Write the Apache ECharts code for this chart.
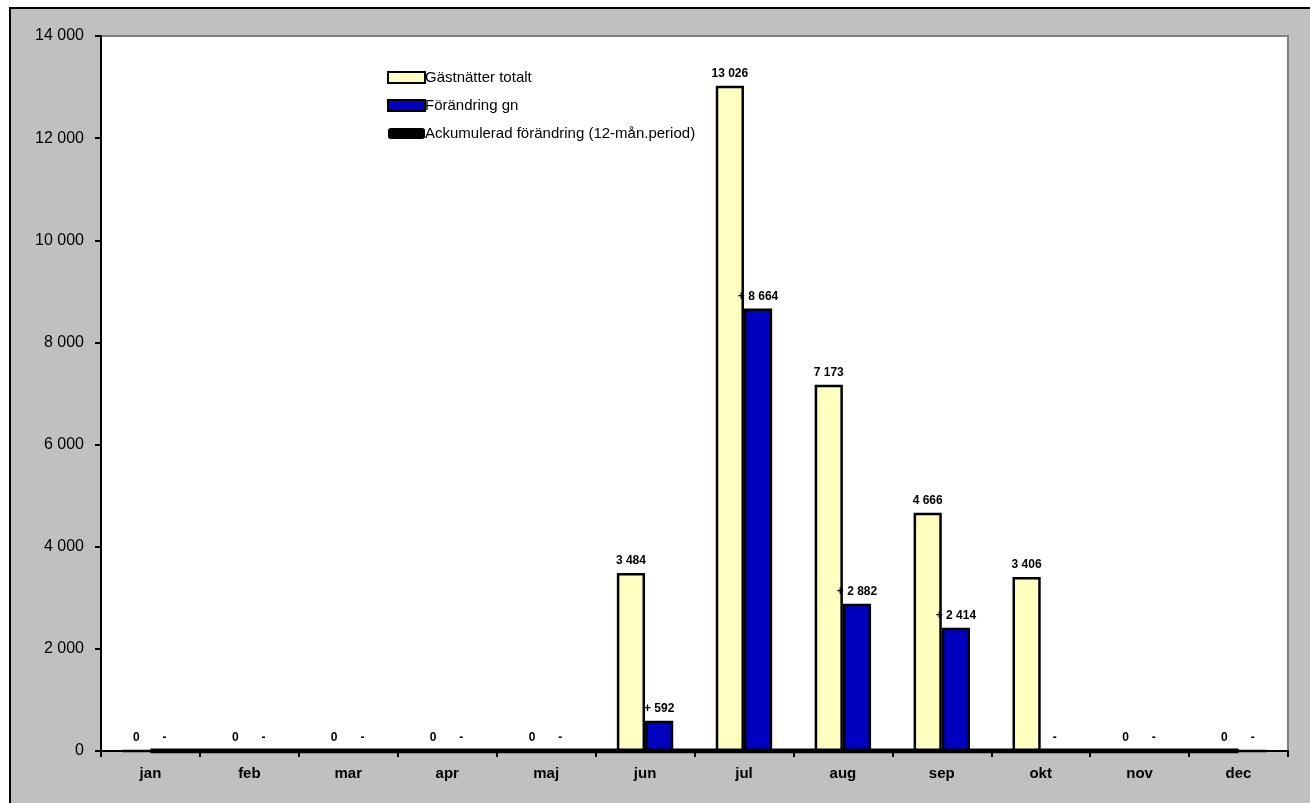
<!DOCTYPE html>
<html>
<head>
<meta charset="utf-8">
<script src="https://cdn.jsdelivr.net/npm/echarts@6/dist/echarts.min.js"></script>
<style>
  html, body { margin: 0; padding: 0; background: #ffffff; }
  #frame {
    position: absolute; left: 9px; top: 7px; width: 1301px; height: 796px;
    background: #c0c0c0; border-left: 2px solid #000; border-top: 2px solid #000;
    box-sizing: border-box;
  }
  #chart { position: absolute; left: 0; top: 0; width: 1310px; height: 803px; }
</style>
</head>
<body>
<div id="frame"></div>
<div id="chart"></div>
<script>
// månader
const months = ['jan', 'feb', 'mar', 'apr', 'maj', 'jun', 'jul', 'aug', 'sep', 'okt', 'nov', 'dec']
// gästnätter totalt
const gastnatter = [0, 0, 0, 0, 0, 3484, 13026, 7173, 4666, 3406, 0, 0]
// förändring gn
const forandring = [0, 0, 0, 0, 0, 592, 8664, 2882, 2414, 0, 0, 0]
// ackumulerad förändring
const ackumulerad = [0, 0, 0, 0, 0, 0, 0, 0, 0, 0, 0, 0]
const yTicks = [0, 2000, 4000, 6000, 8000, 10000, 12000, 14000]

const fmt = v => String(Math.round(v)).replace(/\B(?=(\d{3})+(?!\d))/g, ' ')

const chart = echarts.init(document.getElementById('chart'))

const labelStyle = {
  show: true,
  position: 'top',
  distance: 6,
  fontFamily: 'Liberation Sans, Arial, sans-serif',
  fontSize: 12,
  fontWeight: 'bold',
  color: '#000'
}

const option = {
  animation: false,
  textStyle: { fontFamily: 'Liberation Sans, Arial, sans-serif' },
  grid: {
    left: 101, top: 36, right: 22, bottom: 52,
    show: true,
    backgroundColor: '#ffffff',
    borderColor: '#808080',
    borderWidth: 2
  },
  legend: {
    orient: 'vertical',
    left: 382,
    top: 65,
    itemGap: 13,
    itemWidth: 37,
    itemHeight: 11,
    textStyle: { fontSize: 15, color: '#000', padding: [0, 0, 0, -5] },
    data: [
      { name: 'Gästnätter totalt', icon: 'rect' },
      { name: 'Förändring gn', icon: 'rect' },
      { name: 'Ackumulerad förändring (12-mån.period)', icon: 'roundRect',
        itemStyle: { color: '#000', borderWidth: 0 } }
    ]
  },
  xAxis: {
    type: 'category',
    data: months,
    axisLine: { lineStyle: { color: '#000', width: 2 } },
    axisTick: { show: true, length: 6, lineStyle: { color: '#000', width: 2 } },
    axisLabel: { color: '#000', fontSize: 15, fontWeight: 'bold', margin: 15 },
    splitLine: { show: false }
  },
  yAxis: {
    type: 'value',
    min: 0,
    max: yTicks[yTicks.length - 1],
    interval: 2000,
    axisLine: { show: true, lineStyle: { color: '#000', width: 2 } },
    axisTick: { show: true, length: 6, lineStyle: { color: '#000', width: 2 } },
    axisLabel: { color: '#000', fontSize: 16, margin: 17, formatter: v => fmt(v) },
    splitLine: { show: false }
  },
  series: [
    {
      name: 'Gästnätter totalt',
      type: 'bar',
      data: gastnatter,
      barWidth: '28.5%',
      barGap: '0%',
      itemStyle: { color: '#ffffc0', borderColor: '#000', borderWidth: 2.5 },
      label: Object.assign({}, labelStyle, { formatter: p => fmt(p.value) })
    },
    {
      name: 'Förändring gn',
      type: 'bar',
      data: forandring,
      barWidth: '28.5%',
      itemStyle: { color: '#0000c0', borderColor: '#000', borderWidth: 2.5 },
      label: Object.assign({}, labelStyle, {
        formatter: p => p.value === 0 ? '-' : '+ ' + fmt(p.value)
      })
    },
    {
      name: 'Ackumulerad förändring (12-mån.period)',
      type: 'line',
      data: ackumulerad,
      symbol: 'none',
      z: 1,
      lineStyle: { color: '#000', width: 5 },
      itemStyle: { color: '#000' }
    }
  ]
}

chart.setOption(option)
</script>
</body>
</html>
